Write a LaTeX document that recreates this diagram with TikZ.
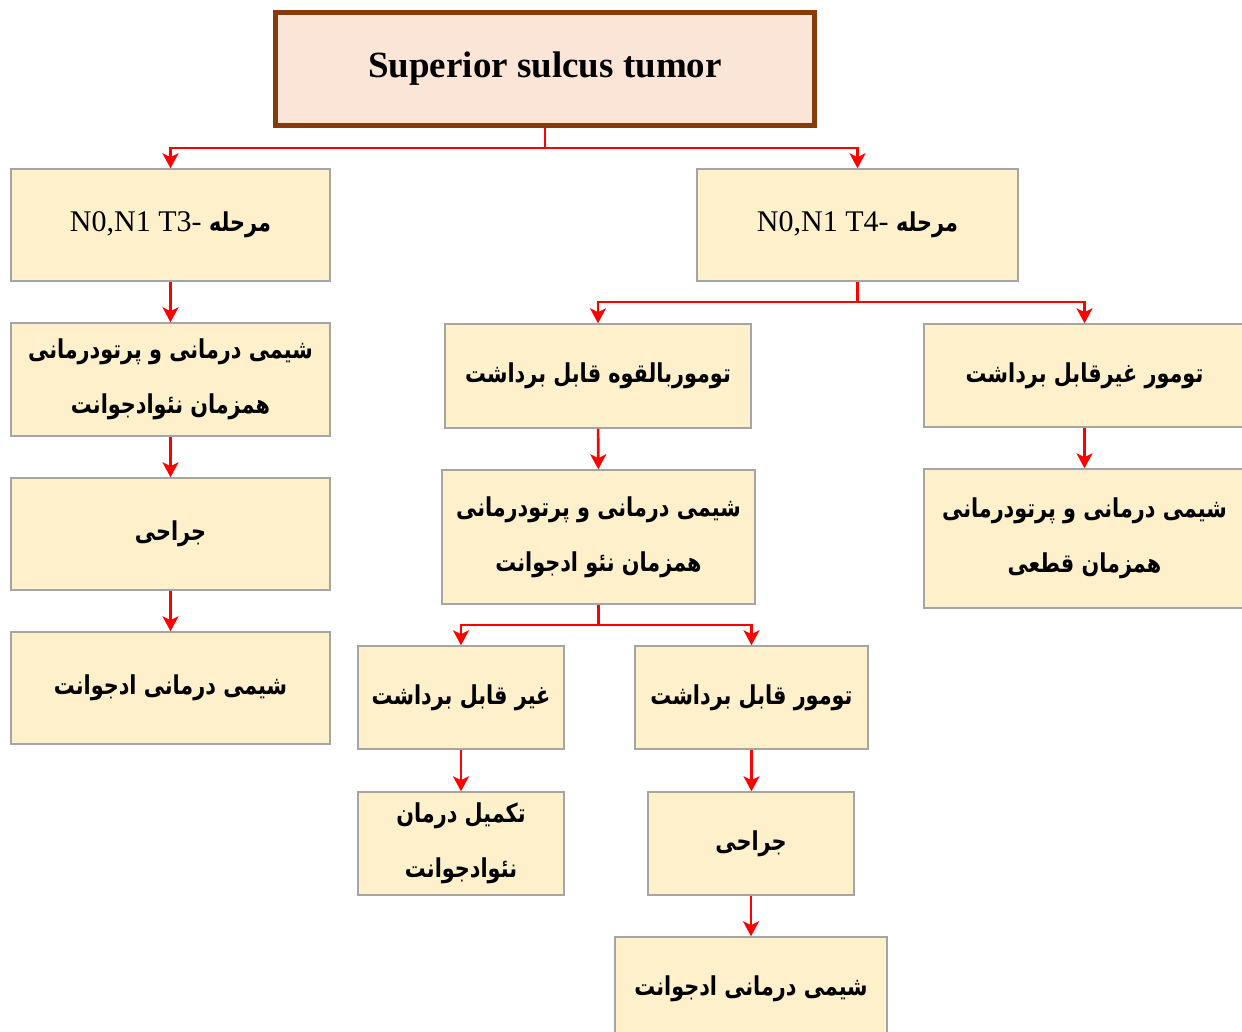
\documentclass[tikz,border=0pt]{standalone}
\usepackage{fontspec}
\setmainfont{Liberation Serif}
\newfontfamily\fa[Script=Arabic,FakeStretch=0.8]{DejaVu Sans}
\TeXXeTstate=1
\usetikzlibrary{arrows.meta}
\definecolor{boxfill}{HTML}{FFF0CC}
\definecolor{boxline}{HTML}{A5A5A5}
\definecolor{topfill}{HTML}{FBE5D6}
\definecolor{topline}{HTML}{843C0C}
\definecolor{arrred}{HTML}{FF0000}
\newcommand{\fl}[1]{{\fa\bfseries\beginR #1\endR}}
\newcommand{\bx}[6]{%
  \node[box, minimum width={(#4-#2)*0.5pt}, minimum height={(#5-#3)*0.5pt}]
    (#1) at ({(#2+#4)/2},{(#3+#5)/2}) {#6};}
\tikzset{
  box/.style={draw=boxline, fill=boxfill, line width=0.75pt, inner sep=0pt,
    align=center, font=\fontsize{13}{27.5}\selectfont},
  conn/.style={draw=arrred, line width=1.3pt, line join=miter,
    -{Stealth[length=7.5pt,width=8pt,inset=2pt]}},
  link/.style={draw=arrred, line width=1.3pt, line join=miter}
}
\begin{document}
\begin{tikzpicture}[x=0.5pt,y=-0.5pt]
\useasboundingbox (0,0) rectangle (1242,1032);
% top box
\node[draw=topline, fill=topfill, line width=2.5pt, minimum width={(814.5-275.5)*0.5pt},
  minimum height={(127.5-14.5)*0.5pt}, inner sep=0pt,
  font=\fontsize{18.5}{22}\selectfont\bfseries] (top) at (545,69) {Superior sulcus tumor};
% left column
\bx{L1}{11}{169}{330}{281}{\fontsize{15}{27.5}\selectfont N0,N1 T3- {\fontsize{13}{27.5}\selectfont\fl{مرحله}}}
\bx{L2}{11}{323}{330}{436}{\fl{شیمی درمانی و پرتودرمانی}\\ \fl{همزمان نئوادجوانت}}
\bx{L3}{11}{478}{330}{590}{\fl{جراحی}}
\bx{L4}{11}{632}{330}{744}{\fl{شیمی درمانی ادجوانت}}
% right branch
\bx{R1}{697}{169}{1018}{281}{\fontsize{15}{27.5}\selectfont N0,N1 T4- {\fontsize{13}{27.5}\selectfont\fl{مرحله}}}
\bx{M1}{445}{324}{751}{428}{\fl{توموربالقوه قابل برداشت}}
\bx{RR1}{924}{324}{1245}{427}{\fl{تومور غیرقابل برداشت}}
\bx{M2}{442}{470}{755}{604}{\fl{شیمی درمانی و پرتودرمانی}\\ \fl{همزمان نئو ادجوانت}}
\bx{RR2}{924}{469}{1245}{608}{\fl{شیمی درمانی و پرتودرمانی}\\ \fl{همزمان قطعی}}
\bx{M3a}{358}{646}{564}{749}{\fl{غیر قابل برداشت}}
\bx{M3b}{635}{646}{868}{749}{\fl{تومور قابل برداشت}}
\bx{M4a}{358}{792}{564}{895}{\fl{تکمیل درمان}\\ \fl{نئوادجوانت}}
\bx{M4b}{648}{792}{854}{895}{\fl{جراحی}}
\bx{M5}{615}{937}{887}{1040}{\fl{شیمی درمانی ادجوانت}}
% junctions
\coordinate (j1) at (545,148);
\coordinate (j2) at (857.5,302);
\coordinate (j3) at (598.5,625);
% connectors
\draw[link] (top.south) -- (j1);
\draw[conn] (j1) -| (L1.north);
\draw[conn] (j1) -| (R1.north);
\draw[conn] (L1) -- (L2);
\draw[conn] (L2) -- (L3);
\draw[conn] (L3) -- (L4);
\draw[link] (R1.south) -- (j2);
\draw[conn] (j2) -| (M1.north);
\draw[conn] (j2) -| (RR1.north);
\draw[conn] (M1) -- (M2);
\draw[conn] (RR1) -- (RR2);
\draw[link] (M2.south) -- (j3);
\draw[conn] (j3) -| (M3a.north);
\draw[conn] (j3) -| (M3b.north);
\draw[conn] (M3a) -- (M4a);
\draw[conn] (M3b.south) -- (M3b.south |- M4b.north);
\draw[conn] (M4b) -- (M4b |- M5.north);
\end{tikzpicture}
\end{document}
